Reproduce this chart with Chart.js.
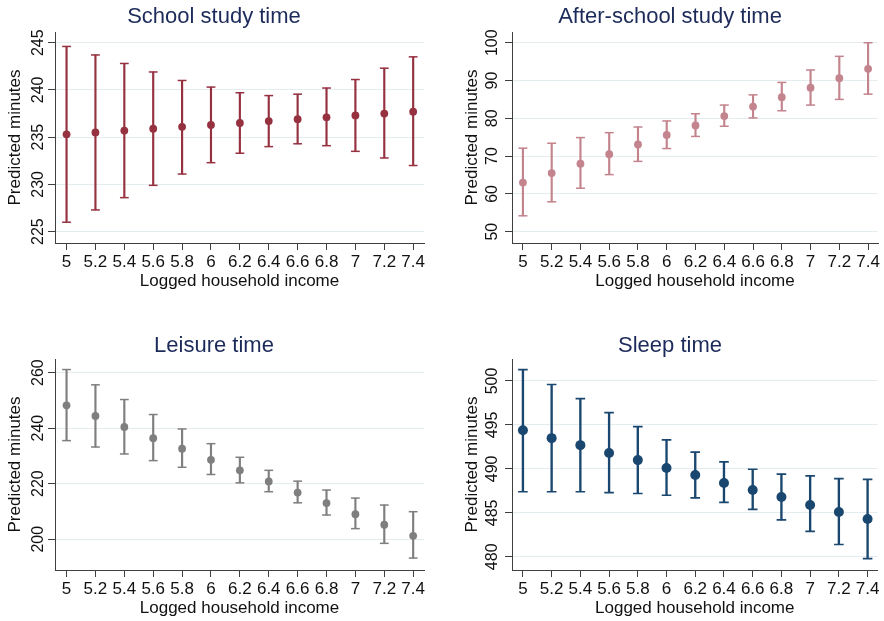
<!DOCTYPE html>
<html>
<head>
<meta charset="utf-8">
<script src="https://cdn.jsdelivr.net/npm/chart.js@4.4.1/dist/chart.umd.min.js"></script>
<style>
  html, body { margin: 0; padding: 0; background: #ffffff; }
  #wrap { position: relative; width: 884px; height: 621px; overflow: hidden; background: #fff; }
  .panel { position: absolute; }
</style>
</head>
<body>
<div id="wrap">
  <div class="panel" style="left:0;top:0;width:442px;height:310px;"><canvas id="c1"></canvas></div>
  <div class="panel" style="left:442px;top:0;width:442px;height:310px;"><canvas id="c2"></canvas></div>
  <div class="panel" style="left:0;top:310px;width:442px;height:311px;"><canvas id="c3"></canvas></div>
  <div class="panel" style="left:442px;top:310px;width:442px;height:311px;"><canvas id="c4"></canvas></div>
</div>
<script>
// ---- data ----
const incomeLevels = [5, 5.2, 5.4, 5.6, 5.8, 6, 6.2, 6.4, 6.6, 6.8, 7, 7.2, 7.4];
const incomeTickLabels = ['5', '5.2', '5.4', '5.6', '5.8', '6', '6.2', '6.4', '6.6', '6.8', '7', '7.2', '7.4'];

const schoolTitle = 'School study time';
const schoolMean = [235.3, 235.5, 235.7, 235.9, 236.1, 236.3, 236.5, 236.7, 236.9, 237.1, 237.3, 237.5, 237.7];
const schoolLow  = [226.0, 227.3, 228.6, 229.9, 231.1, 232.3, 233.3, 234.0, 234.3, 234.1, 233.5, 232.8, 232.0];
const schoolHigh = [244.6, 243.7, 242.8, 241.9, 241.0, 240.3, 239.7, 239.4, 239.55, 240.2, 241.1, 242.3, 243.5];
const schoolTicks = [225, 230, 235, 240, 245];

const afterTitle = 'After-school study time';
const afterMean = [63.0, 65.5, 68.0, 70.5, 73.1, 75.6, 78.1, 80.6, 83.1, 85.6, 88.1, 90.6, 93.1];
const afterLow  = [54.2, 57.9, 61.5, 65.1, 68.6, 72.0, 75.2, 77.9, 80.1, 82.0, 83.5, 85.0, 86.4];
const afterHigh = [72.1, 73.4, 74.9, 76.2, 77.7, 79.3, 81.2, 83.5, 86.2, 89.5, 92.8, 96.4, 100.0];
const afterTicks = [50, 60, 70, 80, 90, 100];

const leisureTitle = 'Leisure time';
const leisureMean = [248.2, 244.4, 240.4, 236.4, 232.6, 228.6, 224.8, 220.8, 216.8, 213.0, 209.0, 205.2, 201.2];
const leisureLow  = [235.5, 233.2, 230.7, 228.3, 225.9, 223.3, 220.3, 217.1, 213.1, 208.7, 203.8, 198.5, 193.2];
const leisureHigh = [261.1, 255.6, 250.3, 244.9, 239.7, 234.4, 229.5, 224.8, 220.9, 217.7, 214.8, 212.3, 209.9];
const leisureTicks = [200, 220, 240, 260];

const sleepTitle = 'Sleep time';
const sleepMean = [494.4, 493.5, 492.7, 491.8, 491.0, 490.1, 489.3, 488.4, 487.6, 486.8, 485.9, 485.1, 484.3];
const sleepLow  = [487.4, 487.4, 487.4, 487.3, 487.2, 487.0, 486.7, 486.2, 485.4, 484.2, 482.9, 481.4, 479.8];
const sleepHigh = [501.3, 499.6, 498.0, 496.4, 494.8, 493.3, 491.9, 490.8, 489.96, 489.4, 489.2, 488.9, 488.8];
const sleepTicks = [480, 485, 490, 495, 500];

const yAxisTitle = 'Predicted minutes';
const xAxisTitle = 'Logged household income';

// ---- styling / layout ----
const FONT = "'Liberation Sans', Arial, Helvetica, sans-serif";
const AXIS_COLOR = '#3f3f3f';
const GRID_COLOR = '#e4ecef';
const TEXT_COLOR = '#111111';
const TITLE_COLOR = '#1c2b5a';

function makePanel(canvasId, cfg) {
  const canvas = document.getElementById(canvasId);
  const W = cfg.w, H = cfg.h;
  const area = cfg.area; // {left, top, right, bottom}
  const col = cfg.color;

  const pts = (vals) => incomeLevels.map((x, i) => ({ x: x, y: vals[i] }));

  const textPlugin = {
    id: 'panelText_' + canvasId,
    afterDraw(chart) {
      const ctx = chart.ctx;
      const ys = chart.scales.y;
      const ca = chart.chartArea;
      ctx.save();
      // chart title
      ctx.fillStyle = TITLE_COLOR;
      ctx.font = '22px ' + FONT;
      ctx.textAlign = 'center';
      ctx.textBaseline = 'alphabetic';
      ctx.fillText(cfg.title, cfg.titleX, cfg.titleY);
      // rotated y tick labels
      ctx.fillStyle = TEXT_COLOR;
      ctx.font = '16px ' + FONT;
      cfg.yTicks.forEach(v => {
        const py = ys.getPixelForValue(v);
        ctx.save();
        ctx.translate(ca.left - cfg.yLabelGap, py);
        ctx.rotate(-Math.PI / 2);
        ctx.textAlign = 'center';
        ctx.textBaseline = 'alphabetic';
        ctx.fillText(String(v), 0, 0);
        ctx.restore();
      });
      ctx.restore();
    }
  };

  const lh = 17 * 1.2;
  const mid = 0.3465 * 17;
  const yTitlePad = (area.left - 33.5 - mid) - lh / 2;
  const xTitlePad = H - (area.bottom + 44 - mid) - lh / 2;

  return new Chart(canvas, {
    data: {
      datasets: [
        {
          type: 'scatter',
          label: 'mean',
          data: pts(cfg.mean),
          pointStyle: 'circle',
          pointRadius: cfg.markerR,
          pointHoverRadius: cfg.markerR,
          pointBackgroundColor: col,
          pointBorderColor: col,
          pointBorderWidth: 0,
          order: 0
        },
        {
          type: 'scatter',
          label: 'upper',
          data: pts(cfg.high),
          pointStyle: 'line',
          pointRadius: cfg.capR,
          pointHoverRadius: cfg.capR,
          pointBorderColor: col,
          pointBackgroundColor: col,
          pointBorderWidth: cfg.lineW,
          order: 1
        },
        {
          type: 'scatter',
          label: 'lower',
          data: pts(cfg.low),
          pointStyle: 'line',
          pointRadius: cfg.capR,
          pointHoverRadius: cfg.capR,
          pointBorderColor: col,
          pointBackgroundColor: col,
          pointBorderWidth: cfg.lineW,
          order: 2
        },
        {
          type: 'bar',
          label: 'ci',
          data: incomeLevels.map((x, i) => ({ x: x, y: [cfg.low[i], cfg.high[i]] })),
          backgroundColor: col,
          borderWidth: 0,
          barThickness: cfg.lineW,
          order: 3
        }
      ]
    },
    options: {
      responsive: false,
      animation: false,
      devicePixelRatio: 1,
      events: [],
      layout: {
        padding: { left: 0, top: area.top, right: W - area.right, bottom: 0 }
      },
      plugins: {
        legend: { display: false },
        tooltip: { enabled: false },
        title: { display: false }
      },
      scales: {
        x: {
          type: 'linear',
          offset: false,
          min: cfg.xMin,
          max: cfg.xMax,
          afterBuildTicks: (scale) => { scale.ticks = incomeLevels.map(v => ({ value: v })); },
          afterFit: (scale) => { scale.height = H - area.bottom; },
          ticks: {
            autoSkip: false,
            maxRotation: 0,
            minRotation: 0,
            padding: 2,
            color: TEXT_COLOR,
            font: { family: FONT, size: 17 },
            callback: (value, index) => incomeTickLabels[index]
          },
          grid: {
            offset: false,
            drawOnChartArea: false,
            drawTicks: true,
            tickLength: 7,
            tickColor: AXIS_COLOR,
            tickWidth: 1
          },
          border: { display: true, color: AXIS_COLOR, width: 1 },
          title: {
            display: true,
            text: xAxisTitle,
            color: TEXT_COLOR,
            font: { family: FONT, size: 17 },
            padding: { top: 0, bottom: xTitlePad }
          }
        },
        y: {
          type: 'linear',
          min: cfg.yMin,
          max: cfg.yMax,
          afterBuildTicks: (scale) => { scale.ticks = cfg.yTicks.map(v => ({ value: v })); },
          afterFit: (scale) => { scale.width = area.left; },
          ticks: { display: false },
          grid: {
            drawOnChartArea: true,
            color: GRID_COLOR,
            lineWidth: 1,
            drawTicks: true,
            tickLength: 7,
            tickColor: AXIS_COLOR,
            tickWidth: 1
          },
          border: { display: true, color: AXIS_COLOR, width: 1 },
          title: {
            display: true,
            text: yAxisTitle,
            color: TEXT_COLOR,
            font: { family: FONT, size: 17 },
            padding: { top: yTitlePad, bottom: 0 }
          }
        }
      }
    },
    plugins: [textPlugin]
  });
}

function sizeCanvas(id, w, h) {
  const c = document.getElementById(id);
  c.width = w; c.height = h;
  c.style.width = w + 'px'; c.style.height = h + 'px';
}
sizeCanvas('c1', 442, 310);
sizeCanvas('c2', 442, 310);
sizeCanvas('c3', 442, 311);
sizeCanvas('c4', 442, 311);

makePanel('c1', {
  w: 442, h: 310, area: { left: 55, top: 32, right: 424, bottom: 243 },
  color: '#963140', title: schoolTitle, titleX: 214, titleY: 23,
  mean: schoolMean, low: schoolLow, high: schoolHigh, yTicks: schoolTicks,
  yMin: 223.8, yMax: 246.13, xMin: 4.92, xMax: 7.475,
  markerR: 3.9, capR: 4.4, lineW: 1.5, yLabelGap: 12.5
});
makePanel('c2', {
  w: 442, h: 310, area: { left: 70, top: 32, right: 437, bottom: 243 },
  color: '#c3848e', title: afterTitle, titleX: 228, titleY: 23.3,
  mean: afterMean, low: afterLow, high: afterHigh, yTicks: afterTicks,
  yMin: 47.0, yMax: 102.84, xMin: 4.924, xMax: 7.469,
  markerR: 3.9, capR: 4.5, lineW: 1.5, yLabelGap: 15
});
makePanel('c3', {
  w: 442, h: 311, area: { left: 55, top: 49, right: 424, bottom: 260 },
  color: '#7f7f7f', title: leisureTitle, titleX: 214, titleY: 41.7,
  mean: leisureMean, low: leisureLow, high: leisureHigh, yTicks: leisureTicks,
  yMin: 188.9, yMax: 264.9, xMin: 4.92, xMax: 7.475,
  markerR: 3.9, capR: 4.4, lineW: 1.5, yLabelGap: 12.5
});
makePanel('c4', {
  w: 442, h: 311, area: { left: 70, top: 49, right: 438, bottom: 260 },
  color: '#1a476f', title: sleepTitle, titleX: 228, titleY: 41.7,
  mean: sleepMean, low: sleepLow, high: sleepHigh, yTicks: sleepTicks,
  yMin: 478.5, yMax: 502.5, xMin: 4.924, xMax: 7.469,
  markerR: 5, capR: 4.8, lineW: 1.7, yLabelGap: 15
});
</script>
</body>
</html>
